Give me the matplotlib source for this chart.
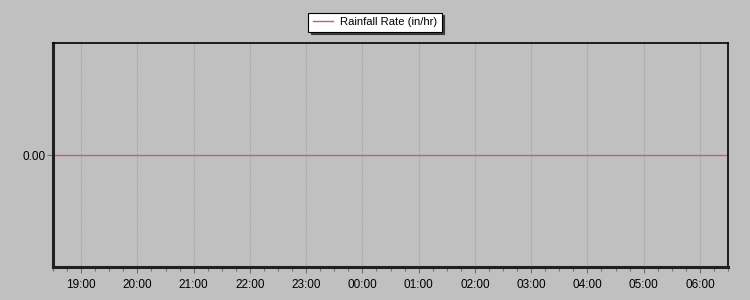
from datetime import datetime

import matplotlib.pyplot as plt
import matplotlib.dates as mdates

plt.rcParams['font.family'] = ['Liberation Sans', 'DejaVu Sans']

# Rainfall rate readings (in/hr)
times = ['2024-01-01 18:30', '2024-01-01 19:30', '2024-01-01 20:30',
         '2024-01-01 21:30', '2024-01-01 22:30', '2024-01-01 23:30',
         '2024-01-02 00:30', '2024-01-02 01:30', '2024-01-02 02:30',
         '2024-01-02 03:30', '2024-01-02 04:30', '2024-01-02 05:30',
         '2024-01-02 06:30']
rain_rate = [0.0, 0.0, 0.0, 0.0, 0.0, 0.0, 0.0, 0.0, 0.0, 0.0, 0.0, 0.0, 0.0]
yticks = [0.0]

dates = [datetime.strptime(t, "%Y-%m-%d %H:%M") for t in times]

bg = '#c0c0c0'
fig = plt.figure(figsize=(7.5, 3), dpi=100, facecolor=bg)
ax = fig.add_axes([53 / 750, 33 / 300, 675 / 750, 224 / 300])
ax.set_facecolor(bg)

ax.plot(dates, rain_rate, color='#c06080', lw=1, label='Rainfall Rate (in/hr)')

ax.set_xlim(dates[0], dates[-1])
ax.set_ylim(-1, 1)
ax.set_yticks(yticks)
ax.set_yticklabels([f"{v:.2f}" for v in yticks])

ax.xaxis.set_major_locator(mdates.HourLocator())
ax.xaxis.set_minor_locator(mdates.MinuteLocator(byminute=[15, 30, 45]))
ax.xaxis.set_major_formatter(mdates.DateFormatter('%H:%M'))

ax.grid(axis='x', which='major', color='#a0a0a0', linestyle=(0, (1, 1)), lw=0.8)
ax.tick_params(axis='both', which='major', labelsize=8.5, colors='#707070',
               labelcolor='black', length=4, width=0.8)
ax.tick_params(axis='x', which='minor', colors='#707070', length=3, width=0.8)
ax.tick_params(axis='x', pad=5)
ax.tick_params(axis='y', pad=1)

for side in ['left', 'bottom']:
    ax.spines[side].set_linewidth(2.2)
    ax.spines[side].set_color('#202020')
for side in ['top', 'right']:
    ax.spines[side].set_linewidth(1.2)
    ax.spines[side].set_color('black')

leg = fig.legend(loc='center', bbox_to_anchor=(375 / 750, 1 - 22 / 300),
                 fontsize=8.1, frameon=True, fancybox=False,
                 shadow={'color': '#303030', 'alpha': 0.9},
                 edgecolor='black', handlelength=1.8, borderpad=0.4,
                 handletextpad=0.6, borderaxespad=0)
leg.get_frame().set_linewidth(0.8)

fig.savefig('out.png', dpi=100, facecolor=bg)
